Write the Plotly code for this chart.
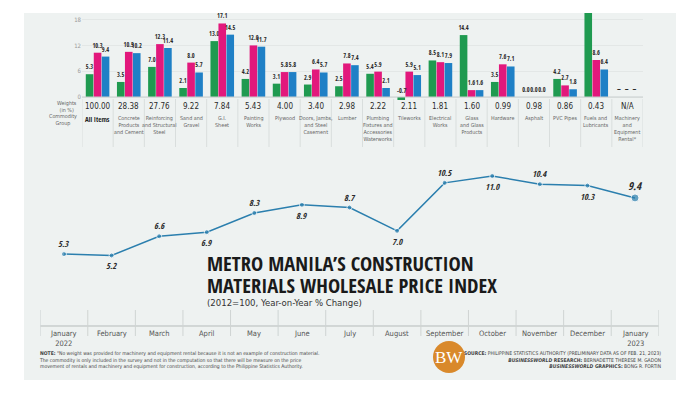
import plotly.graph_objects as go

# ---------------- data ----------------
categories = ["All Items", "Concrete<br>Products<br>and Cement", "Reinforcing<br>and Structural<br>Steel",
              "Sand and<br>Gravel", "G.I.<br>Sheet", "Painting<br>Works", "Plywood",
              "Doors, Jambs,<br>and Steel<br>Casement", "Lumber",
              "Plumbing<br>Fixtures and<br>Accessories<br>Waterworks", "Tileworks", "Electrical<br>Works",
              "Glass<br>and Glass<br>Products", "Hardware", "Asphalt", "PVC Pipes", "Fuels and<br>Lubricants",
              "Machinery<br>and<br>Equipment<br>Rental*"]
weights = ["100.00", "28.38", "27.76", "9.22", "7.84", "5.43", "4.00", "3.40", "2.98", "2.22",
           "2.11", "1.81", "1.60", "0.99", "0.98", "0.86", "0.43", "N/A"]
jan_2022 = [5.3, 3.5, 7.0, 2.1, 13.0, 4.2, 3.1, 2.9, 2.5, 5.4, -0.7, 8.5, 14.4, 3.5, 0.0, 4.2, 40.0, None]
dec_2022 = [10.3, 10.5, 12.3, 8.0, 17.1, 12.0, 5.8, 6.4, 7.8, 5.9, 5.9, 8.1, 1.6, 7.6, 0.0, 2.7, 8.6, None]
jan_2023 = [9.4, 10.2, 11.4, 5.7, 14.5, 11.7, 5.8, 5.7, 7.4, 2.1, 5.1, 7.9, 1.6, 7.1, 0.0, 1.8, 6.4, None]
bar_ticks = [0, 6, 12, 18]

months = ["January<br>2022", "February", "March", "April", "May", "June", "July", "August",
          "September", "October", "November", "December", "January<br>2023"]
index_yoy = [5.3, 5.2, 6.6, 6.9, 8.3, 8.9, 8.7, 7.0, 10.5, 11.0, 10.4, 10.3, 9.4]

# ---------------- style ----------------
W, H = 700, 393
GREEN, MAGENTA, BLUE = "#1f9a50", "#e2187c", "#1f80c6"
LINE = "#2b7fae"
PANEL = "#eef2f1"
TXT = "#2a2a2a"
NARROW = "Open Sans Condensed, DejaVu Sans Condensed, sans-serif"
NARROW_REG = "DejaVu Sans Condensed, Open Sans Condensed, sans-serif"


def px(x):
    return x / W


def py(y):
    return 1 - y / H


fig = go.Figure()
ncat = len(categories)
xs = list(range(ncat))


def fmt(v):
    if v is None:
        return ""
    return f"{v:.1f}"


series = [(jan_2022, GREEN), (dec_2022, MAGENTA), (jan_2023, BLUE)]
for k, (vals, col) in enumerate(series):
    texts = []
    for i, v in enumerate(vals):
        t = fmt(v)
        if k == 0 and (v is not None and (v < 0 or v > 19)):
            t = ""
        texts.append(t)
    fig.add_trace(go.Bar(
        x=xs, y=vals, marker=dict(color=col, line=dict(width=0)), text=texts,
        textposition="outside", cliponaxis=True, constraintext="none",
        textfont=dict(family=NARROW, size=6.2, color=TXT, weight="bold"),
        xaxis="x", yaxis="y", showlegend=False, hoverinfo="skip"))

# bar axis geometry
bar_left, bar_right = 82, 643
base_px = 97
ppu = 4.3
top_px, bot_px = 13, 101
y_top = (base_px - top_px) / ppu
y_bot = -(bot_px - base_px) / ppu

# line chart
fig.add_trace(go.Scatter(
    x=list(range(len(months))), y=index_yoy, mode="lines+markers",
    line=dict(color=LINE, width=1.5),
    marker=dict(color=LINE, size=[5] * (len(months) - 1) + [8]),
    xaxis="x2", yaxis="y2", showlegend=False, hoverinfo="skip"))

annotations = []
shapes = []

# panel
shapes.append(dict(type="rect", xref="paper", yref="paper", x0=px(24), x1=px(676), y0=py(380), y1=py(13),
                   fillcolor=PANEL, line=dict(width=0), layer="below"))

# baseline of bar chart
shapes.append(dict(type="line", xref="paper", yref="y", x0=px(bar_left), x1=px(bar_right), y0=0, y1=0,
                   line=dict(color="#c9cfce", width=1)))

# column separators
for i in range(ncat + 1):
    shapes.append(dict(type="line", xref="x", yref="paper", x0=i - 0.5, x1=i - 0.5,
                       y0=py(147), y1=py(99), line=dict(color="#d9dedd", width=1)))

# weights and commodity labels
for i in range(ncat):
    annotations.append(dict(x=i, y=py(106), xref="x", yref="paper", text=weights[i], showarrow=False,
                            font=dict(family=NARROW_REG, size=8, color=TXT), yanchor="middle"))
    annotations.append(dict(x=i, y=py(113), xref="x", yref="paper",
                            text=("<b>%s</b>" % categories[i]) if i == 0 else categories[i],
                            showarrow=False, yanchor="top",
                            font=dict(family=(NARROW if i == 0 else NARROW_REG), size=(7 if i == 0 else 5.4),
                                      color=("#222" if i == 0 else "#666"))))

# N/A dashes
annotations.append(dict(x=ncat - 1, y=0, xref="x", yref="y", text="–  –  –", showarrow=False,
                        yanchor="bottom", yshift=1, font=dict(family=NARROW, size=8, color=TXT)))
# negative value label
annotations.append(dict(x=10, y=0, xref="x", yref="y", text="<b>-0.7</b>", showarrow=False,
                        yanchor="bottom", xshift=-8, yshift=0, font=dict(family=NARROW, size=6.2, color=TXT)))

# header labels
annotations.append(dict(x=px(79), y=py(106), xref="paper", yref="paper", text="Weights<br>(in %)",
                        showarrow=False, xanchor="right", yanchor="middle",
                        font=dict(family=NARROW_REG, size=5.4, color="#666")))
annotations.append(dict(x=px(79), y=py(120), xref="paper", yref="paper", text="Commodity<br>Group",
                        showarrow=False, xanchor="right", yanchor="middle",
                        font=dict(family=NARROW_REG, size=5.4, color="#666")))

# line point labels
for i, v in enumerate(index_yoy):
    above = (i % 2 == 0)
    last = i == len(index_yoy) - 1
    annotations.append(dict(x=i, y=v, xref="x2", yref="y2", text="<b><i>%.1f</i></b>" % v, showarrow=False,
                            yanchor="bottom" if above else "top", yshift=(3 if above else -3),
                            font=dict(family=NARROW, size=11 if last else 8.5, color=TXT)))

# month axis
nmon = len(months)
shapes.append(dict(type="line", xref="x2", yref="paper", x0=-0.5, x1=nmon - 0.5, y0=py(326), y1=py(326),
                   line=dict(color="#b5bbba", width=1)))
for i in range(nmon + 1):
    shapes.append(dict(type="line", xref="x2", yref="paper", x0=i - 0.5, x1=i - 0.5,
                       y0=py(336), y1=py(310), line=dict(color="#cfd4d3", width=1)))
for i, m in enumerate(months):
    annotations.append(dict(x=i, y=py(327), xref="x2", yref="paper", text=m, showarrow=False,
                            yanchor="top", font=dict(family=NARROW_REG, size=7.5, color="#555")))

# title (two lines placed separately for tight leading)
annotations.append(dict(x=px(205), y=py(263), xref="paper", yref="paper", xanchor="left", yanchor="middle",
                        text="<b>METRO MANILA’S CONSTRUCTION</b>", showarrow=False,
                        font=dict(family=NARROW, size=20.5, color="#1a1a1a")))
annotations.append(dict(x=px(205), y=py(285), xref="paper", yref="paper", xanchor="left", yanchor="middle",
                        text="<b>MATERIALS WHOLESALE PRICE INDEX</b>", showarrow=False,
                        font=dict(family=NARROW, size=20.5, color="#1a1a1a")))
annotations.append(dict(x=px(205), y=py(302), xref="paper", yref="paper", xanchor="left", yanchor="middle",
                        text="(2012=100, Year-on-Year % Change)", showarrow=False,
                        font=dict(family=NARROW_REG, size=9.5, color="#333")))

# footer note
note = ("<b>NOTE:</b> \"No weight was provided for machinery and equipment rental because it is not an example of construction material.<br>"
        "The commodity is only included in the survey and not in the computation so that there will be measure on the price<br>"
        "movement of rentals and machinery and equipment for construction, according to the Philippine Statistics Authority.")
annotations.append(dict(x=px(37), y=py(348), xref="paper", yref="paper", xanchor="left", yanchor="top",
                        text=note, showarrow=False, align="left",
                        font=dict(family=NARROW_REG, size=5, color="#444")))
source = ("<b>SOURCE:</b> PHILIPPINE STATISTICS AUTHORITY (PRELIMINARY DATA AS OF FEB. 21, 2023)<br>"
          "<b><i>BUSINESSWORLD</i> RESEARCH:</b> BERNADETTE THERESE M. GADON<br>"
          "<b><i>BUSINESSWORLD</i> GRAPHICS:</b> BONG R. FORTIN")
annotations.append(dict(x=px(663), y=py(348), xref="paper", yref="paper", xanchor="right", yanchor="top",
                        text=source, showarrow=False, align="right",
                        font=dict(family=NARROW_REG, size=5, color="#444")))

# BW logo
shapes.append(dict(type="circle", xref="paper", yref="paper", x0=px(433), x1=px(465), y0=py(373), y1=py(341),
                   fillcolor="#d9892b", line=dict(width=0)))
annotations.append(dict(x=px(449), y=py(357), xref="paper", yref="paper", text="BW", showarrow=False,
                        xanchor="center", yanchor="middle",
                        font=dict(family="Liberation Serif, DejaVu Serif, serif", size=17, color="white")))

fig.update_layout(
    width=W, height=H, margin=dict(l=0, r=0, t=0, b=0),
    paper_bgcolor="white", plot_bgcolor="rgba(0,0,0,0)",
    barmode="group", bargap=0.23, bargroupgap=0.05,
    xaxis=dict(domain=[px(bar_left), px(bar_right)], range=[-0.5, ncat - 0.5], showticklabels=False,
               showgrid=False, zeroline=False, fixedrange=True),
    yaxis=dict(domain=[py(bot_px), py(top_px)], range=[y_bot, y_top], tickvals=bar_ticks,
               tickfont=dict(family=NARROW_REG, size=6, color="#999"), showgrid=True, gridcolor="#e3e7e6",
               zeroline=False, ticks="", fixedrange=True),
    xaxis2=dict(domain=[px(40.2), px(658.8)], range=[-0.5, nmon - 0.5], anchor="y2",
                showticklabels=False, showgrid=False, zeroline=False),
    yaxis2=dict(domain=[py(310), py(150)], range=[11 - (310 - 176) / 13.7, 11 + (176 - 150) / 13.7],
                anchor="x2", showticklabels=False, showgrid=False, zeroline=False),
    shapes=shapes, annotations=annotations,
)

fig.write_html("out.html", config={"displayModeBar": False},
               post_script="document.body.style.margin='0';document.body.style.overflow='hidden';")
